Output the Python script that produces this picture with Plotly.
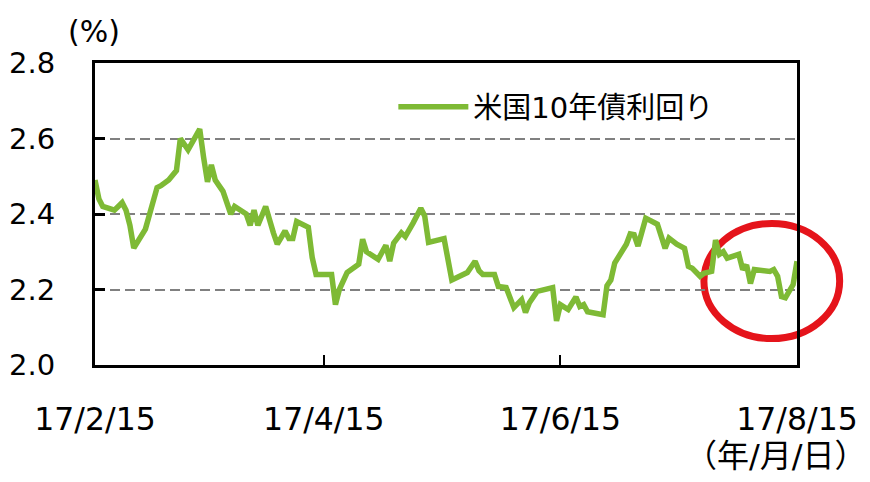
import plotly.graph_objects as go
import pandas as pd

# ---- data ----
dates = [
    "2017-02-15", "2017-02-16", "2017-02-17", "2017-02-20", "2017-02-22", "2017-02-23",
    "2017-02-24", "2017-02-25", "2017-02-28", "2017-03-03", "2017-03-04", "2017-03-06",
    "2017-03-08", "2017-03-09", "2017-03-11", "2017-03-14", "2017-03-15", "2017-03-16",
    "2017-03-17", "2017-03-18", "2017-03-20", "2017-03-22", "2017-03-23", "2017-03-26",
    "2017-03-27", "2017-03-28", "2017-03-29", "2017-03-31", "2017-04-02", "2017-04-03",
    "2017-04-05", "2017-04-06", "2017-04-07", "2017-04-08", "2017-04-11", "2017-04-12",
    "2017-04-13", "2017-04-17", "2017-04-18", "2017-04-19", "2017-04-21", "2017-04-24",
    "2017-04-25", "2017-04-26", "2017-04-29", "2017-05-01", "2017-05-02", "2017-05-03",
    "2017-05-05", "2017-05-06", "2017-05-08", "2017-05-10", "2017-05-11", "2017-05-12",
    "2017-05-16", "2017-05-18", "2017-05-22", "2017-05-24", "2017-05-25", "2017-05-26",
    "2017-05-29", "2017-05-30", "2017-06-01", "2017-06-03", "2017-06-05", "2017-06-06",
    "2017-06-07", "2017-06-09", "2017-06-13", "2017-06-14", "2017-06-15", "2017-06-17",
    "2017-06-19", "2017-06-20", "2017-06-21", "2017-06-22", "2017-06-26", "2017-06-27",
    "2017-06-28", "2017-06-29", "2017-07-02", "2017-07-03", "2017-07-04", "2017-07-05",
    "2017-07-07", "2017-07-09", "2017-07-10", "2017-07-12", "2017-07-13", "2017-07-15",
    "2017-07-17", "2017-07-18", "2017-07-19", "2017-07-21", "2017-07-22", "2017-07-24",
    "2017-07-25", "2017-07-26", "2017-07-27", "2017-07-28", "2017-07-31", "2017-08-01",
    "2017-08-02", "2017-08-03", "2017-08-04", "2017-08-08", "2017-08-09", "2017-08-10",
    "2017-08-11", "2017-08-12", "2017-08-14", "2017-08-15",
]
yields = [
    2.49, 2.44, 2.42, 2.41, 2.43, 2.41,
    2.37, 2.31, 2.36, 2.47, 2.475, 2.49,
    2.515, 2.60, 2.57, 2.625, 2.55, 2.485,
    2.53, 2.49, 2.46, 2.40, 2.42, 2.40,
    2.37, 2.41, 2.37, 2.42, 2.35, 2.32,
    2.355, 2.335, 2.335, 2.38, 2.365, 2.285,
    2.24, 2.24, 2.16, 2.20, 2.245, 2.267,
    2.333, 2.30, 2.28, 2.317, 2.275, 2.323,
    2.35, 2.34, 2.376, 2.415, 2.395, 2.325,
    2.335, 2.225, 2.245, 2.275, 2.25, 2.24,
    2.24, 2.208, 2.205, 2.152, 2.173, 2.139,
    2.165, 2.195, 2.205, 2.117, 2.16, 2.147,
    2.18, 2.155, 2.16, 2.141, 2.133, 2.21,
    2.225, 2.27, 2.32, 2.347, 2.345, 2.315,
    2.389, 2.38, 2.373, 2.309, 2.336, 2.32,
    2.309, 2.261, 2.256, 2.235, 2.243, 2.248,
    2.331, 2.293, 2.30, 2.283, 2.293, 2.253,
    2.265, 2.216, 2.253, 2.248, 2.253, 2.235,
    2.181, 2.178, 2.213, 2.275,
]
series_name = "米国10年債利回り"
x_tick_vals = ["2017-02-15", "2017-04-15", "2017-06-15", "2017-08-15"]
x_tick_text = ["17/2/15", "17/4/15", "17/6/15", "17/8/15"]
y_tick_vals = [2.0, 2.2, 2.4, 2.6, 2.8]
y_tick_text = ["2.0", "2.2", "2.4", "2.6", "2.8"]
x_range = ["2017-02-15", "2017-08-15"]
y_range = [2.0, 2.8]
# highlight ellipse, in data units
ellipse_x = ["2017-07-22", "2017-08-26"]
ellipse_y = [2.07, 2.375]

FONT = "DejaVu Sans, Noto Sans CJK JP, sans-serif"
GREEN = "#7EBA35"

fig = go.Figure()
fig.add_trace(go.Scatter(
    x=pd.to_datetime(dates), y=yields, mode="lines", name=series_name,
    line=dict(color=GREEN, width=5.5), showlegend=True,
))

# convert ellipse bounds from data units to paper units (so it is not clipped)
t0, t1 = pd.Timestamp(x_range[0]), pd.Timestamp(x_range[1])
span = (t1 - t0).total_seconds()
px0 = (pd.Timestamp(ellipse_x[0]) - t0).total_seconds() / span
px1 = (pd.Timestamp(ellipse_x[1]) - t0).total_seconds() / span
py0 = (ellipse_y[0] - y_range[0]) / (y_range[1] - y_range[0])
py1 = (ellipse_y[1] - y_range[0]) / (y_range[1] - y_range[0])
fig.add_shape(type="circle", xref="paper", yref="paper",
              x0=px0, x1=px1, y0=py0, y1=py1,
              line=dict(color="#E5141B", width=7), layer="below")

fig.update_layout(
    width=870, height=482,
    margin=dict(l=87, r=81, t=55, b=125),
    paper_bgcolor="white", plot_bgcolor="rgba(0,0,0,0)",
    font=dict(family=FONT, size=28, color="black"),
    showlegend=True,
    legend=dict(x=0.425, y=0.855, xanchor="left", yanchor="middle",
                bgcolor="rgba(0,0,0,0)", font=dict(size=29, family=FONT),
                itemwidth=70),
)
fig.update_xaxes(
    type="date", range=x_range, automargin=False,
    tickvals=x_tick_vals, ticktext=x_tick_text, tickangle=0,
    showline=True, linecolor="black", linewidth=3, mirror=True,
    ticks="inside", ticklen=10, tickwidth=2, tickcolor="black",
    showgrid=False, zeroline=False, ticklabelstandoff=24,
    tickfont=dict(size=31.5, family=FONT),
)
fig.update_yaxes(
    range=y_range, tickvals=y_tick_vals, ticktext=y_tick_text, automargin=False,
    showline=True, linecolor="black", linewidth=3, mirror=True,
    ticks="inside", ticklen=10, tickwidth=3, tickcolor="black",
    showgrid=True, gridcolor="#808080", gridwidth=2, griddash="10px,5px",
    zeroline=False, ticklabelstandoff=31,
    tickfont=dict(size=29, family=FONT),
)
fig.add_annotation(text="(%)", xref="paper", yref="paper", x=-0.002, y=1.105,
                   xanchor="center", yanchor="middle", showarrow=False,
                   font=dict(size=30, family=FONT))
fig.add_annotation(text="（年/月/日）", xref="paper", yref="paper", x=0.97, y=-0.30,
                   xanchor="center", yanchor="middle", showarrow=False,
                   font=dict(size=32, family=FONT))

fig.write_html("out.html")
